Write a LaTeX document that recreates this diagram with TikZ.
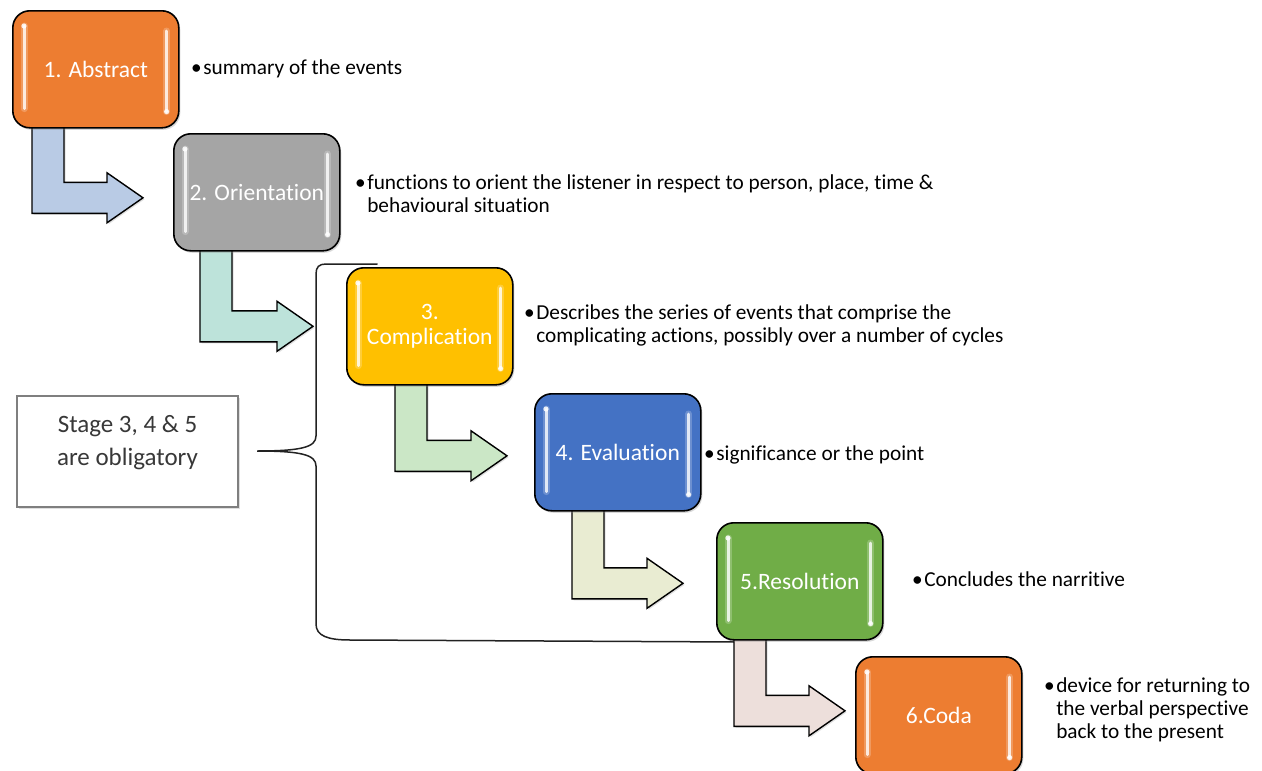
\documentclass[tikz,border=0pt]{standalone}
\usepackage{fontspec}
\setmainfont{Carlito}[Ligatures=NoCommon]
\usetikzlibrary{calc,shadows}

\definecolor{abstractc}{HTML}{ED7D31}
\definecolor{orientc}{HTML}{A5A5A5}
\definecolor{complic}{HTML}{FFC000}
\definecolor{evalc}{HTML}{4472C4}
\definecolor{resolc}{HTML}{70AD47}
\definecolor{arrA}{HTML}{B9CBE5}
\definecolor{arrB}{HTML}{BDE3DA}
\definecolor{arrC}{HTML}{CBE7C6}
\definecolor{arrD}{HTML}{E9ECD2}
\definecolor{arrE}{HTML}{EDDFDB}
\definecolor{stagetext}{HTML}{383838}
\definecolor{stageline}{HTML}{7F7F7F}
\definecolor{bracec}{HTML}{222222}

\pgfdeclarelayer{back}
\pgfdeclarelayer{under}
\pgfsetlayers{back,under,main}

\tikzset{
  stagebox/.style={draw=black, line width=1.6pt, rounded corners=17pt,
    minimum width=166pt, minimum height=117pt, text=white,
    font=\fontsize{23.5}{25}\selectfont, align=center, inner sep=0pt,
    anchor=north west,
    drop shadow={opacity=0.3, shadow xshift=1.5pt, shadow yshift=-2pt}},
  bentarrow/.style={draw=black, line width=1.4pt, line join=miter,
    drop shadow={opacity=0.25, shadow xshift=1.5pt, shadow yshift=-1.5pt}},
  note/.style={anchor=base west, inner sep=0pt,
    font=\fontsize{21.3}{23.3}\selectfont},
  glint/.style={line cap=round, line width=3pt, white, opacity=0.8},
  glow/.style={line cap=round, line width=7pt, white, opacity=0.22},
}

% elbow arrow: source, target, fill, shaft offset, gap to target, tip shift
\newcommand{\bentarrow}[6]{%
  \coordinate (sL) at ($(#1.south west)+(#4,-3)$);
  \coordinate (sR) at ($(sL)+(32,0)$);
  \coordinate (tip) at ($(#2.west)+(-#5,#6)$);
  \coordinate (hT) at ($(tip)+(-36,-15.5)$);
  \coordinate (hB) at ($(tip)+(-36,15.5)$);
  \coordinate (hTT) at ($(tip)+(-36,-25)$);
  \coordinate (hBB) at ($(tip)+(-36,25)$);
  \draw[bentarrow, fill=#3] (sL) -- (sR) -- (sR |- hT) -- (hT) -- (hTT)
    -- (tip) -- (hBB) -- (hB) -- (sL |- hB) -- cycle;
}

% light streaks inside a stage box
\newcommand{\glints}[1]{%
  \draw[glow] ($(#1.north west)+(12,16)$) -- ($(#1.south west)+(12,-20)$);
  \draw[glow] ($(#1.north east)+(-13,21)$) -- ($(#1.south east)+(-13,-17)$);
  \draw[glint] ($(#1.north west)+(12,16)$) -- ($(#1.south west)+(12,-20)$);
  \draw[glint] ($(#1.north east)+(-13,21)$) -- ($(#1.south east)+(-13,-17)$);
  \fill[white, opacity=0.85] ($(#1.north west)+(12,16)$) circle (2.6pt);
  \fill[white, opacity=0.85] ($(#1.south east)+(-13,-17)$) circle (2.6pt);
}

\begin{document}
\begin{tikzpicture}[x=1pt, y=-1pt]
  \useasboundingbox (0,0) rectangle (1262,771);
  \begin{pgfonlayer}{back}
    \fill[white] (0,0) rectangle (1262,771);
  \end{pgfonlayer}
  \clip (0,0) rectangle (1262,771);

  % stage boxes
  \node[stagebox, fill=abstractc] (b1) at (12,10)  {1. Abstract};
  \node[stagebox, fill=orientc]   (b2) at (173,133) {2. Orientation};
  \node[stagebox, fill=complic]   (b3) at (346,267) {3.\\Complication};
  \node[stagebox, fill=evalc]     (b4) at (534,393) {4. Evaluation};
  \node[stagebox, fill=resolc]    (b5) at (716,522) {5.Resolution};
  \node[stagebox, fill=abstractc] (b6) at (855,656) {6.Coda};

  \foreach \b in {b1,b2,b3,b4,b5,b6} {\glints{\b}}

  % elbow arrows between consecutive stages
  \begin{pgfonlayer}{under}
    \bentarrow{b1}{b2}{arrA}{20}{30}{5.5}
    \bentarrow{b2}{b3}{arrB}{27}{33}{0}
    \bentarrow{b3}{b4}{arrC}{49}{27}{3.5}
    \bentarrow{b4}{b5}{arrD}{38}{33}{2}
    \bentarrow{b5}{b6}{arrE}{18}{10}{-4.5}
  \end{pgfonlayer}

  % bracket grouping stages 3 to 5
  \begin{pgfonlayer}{back}
    \draw[bracec, line width=1.5pt, line cap=round]
      (377,264) -- (326,264) .. controls (319,264) and (316,267) .. (316,274)
      -- (316,436) .. controls (316,447) and (302,451) .. (257,451)
      .. controls (302,451) and (316,455) .. (316,466)
      -- (316,624) .. controls (316,636) and (328,640) .. (350,640)
      -- (740,642);
  \end{pgfonlayer}

  % obligatory-stages note
  \node[draw=stageline, line width=1.8pt, minimum width=221pt,
        minimum height=111pt, inner sep=0pt,
        drop shadow={opacity=0.25, shadow xshift=1.5pt, shadow yshift=-1.5pt},
        fill=white] (stage) at (127.5,451.5) {};
  \node[text=stagetext, align=center, font=\fontsize{25}{33}\selectfont]
    (stagetxt) at ($(stage.center)+(0,-9)$) {Stage 3, 4 \& 5\\are obligatory};

  % descriptions
  \node[note] (n1) at (191,74) {\textbullet\hspace{1.5pt}summary of the events};
  \node[note] (n2) at (355,189) {\begin{tabular}[t]{@{}l@{}l@{}}\textbullet\hspace{1.5pt} &
    functions to orient the listener in respect to person, place, time \&\\
    & behavioural situation\end{tabular}};
  \node[note] (n3) at (524,319) {\begin{tabular}[t]{@{}l@{}l@{}}\textbullet\hspace{1.5pt} &
    Describes the series of events that comprise the\\
    & complicating actions, possibly over a number of cycles\end{tabular}};
  \node[note] (n4) at (704,460) {\textbullet\hspace{1.5pt}significance or the point};
  \node[note] (n5) at (912,586) {\textbullet\hspace{1.5pt}Concludes the narritive};
  \node[note] (n6) at (1044,692) {\begin{tabular}[t]{@{}l@{}l@{}}\textbullet\hspace{1.5pt} &
    device for returning to\\
    & the verbal perspective\\
    & back to the present\end{tabular}};
\end{tikzpicture}
\end{document}
